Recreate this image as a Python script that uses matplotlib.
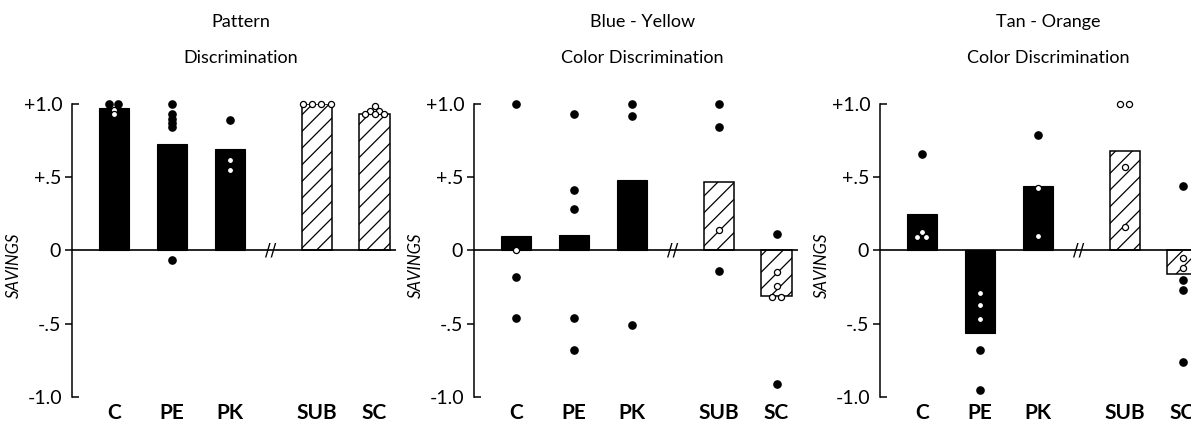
import numpy as np
from matplotlib import pyplot as plt

categories = ["C", "PE", "PK", "SUB", "SC"]

titles = [
    ("Pattern", "Discrimination"),
    ("Blue - Yellow", "Color Discrimination"),
    ("Tan - Orange", "Color Discrimination"),
]

# bar heights (mean savings)
pattern_means = [0.97, 0.73, 0.69, 1.0, 0.935]
blue_yellow_means = [0.098, 0.105, 0.48, 0.465, -0.31]
tan_orange_means = [0.25, -0.56, 0.44, 0.68, -0.16]

# individual subjects, drawn as black dots
pattern_dark = [[1.0, 1.0], [1.0, 0.93, 0.90, 0.87, 0.84, -0.066], [0.89], [], []]
blue_yellow_dark = [[1.0, -0.18, -0.46], [0.93, 0.41, 0.28, -0.46, -0.68],
                    [1.0, 0.92, -0.51], [1.0, 0.84, -0.14], [0.11, -0.91]]
tan_orange_dark = [[0.66], [-0.68, -0.95], [0.79], [], [0.44, -0.2, -0.27, -0.76]]

# individual subjects, drawn as open / reversed dots
pattern_light = [[0.96, 0.93], [], [0.62, 0.55], [1.0, 1.0, 1.0, 1.0],
                 [0.985, 0.955, 0.955, 0.935, 0.935, 0.935]]
blue_yellow_light = [[0.0], [], [], [0.14], [-0.15, -0.24, -0.32, -0.32]]
tan_orange_light = [[0.125, 0.09, 0.09], [-0.29, -0.37, -0.47], [0.43, 0.10],
                    [1.0, 1.0, 0.57, 0.16], [-0.05, -0.12]]

means = [pattern_means, blue_yellow_means, tan_orange_means]
dark = [pattern_dark, blue_yellow_dark, tan_orange_dark]
light = [pattern_light, blue_yellow_light, tan_orange_light]

plt.rcParams["font.family"] = ["Lato", "DejaVu Sans"]
plt.rcParams["hatch.linewidth"] = 0.9

W, H = 1191, 425
fig = plt.figure(figsize=(W / 100, H / 100), dpi=100)

xpos = np.array([0, 1, 2, 3.5, 4.5])
axis_left_px = [72, 474, 880]
axis_width_px = 324
bottom = 1 - 397 / H
height = (397 - 104) / H


def spread(values, step=0.16):
    # side-by-side offsets for subjects sharing the same value
    vals = list(values)
    seen = {}
    out = []
    for v in vals:
        n = vals.count(v)
        k = seen.get(v, 0)
        seen[v] = k + 1
        out.append((k - (n - 1) / 2) * step)
    return np.array(out)


for p in range(3):
    ax = fig.add_axes([axis_left_px[p] / W, bottom, axis_width_px / W, height])
    ax.set_xlim(-0.72, 4.87)
    ax.set_ylim(-1.0, 1.0)

    for i, cat in enumerate(categories):
        if i < 3:
            ax.bar(xpos[i], means[p][i], width=0.52, color="black", edgecolor="black",
                   linewidth=0.8, zorder=2)
        else:
            ax.bar(xpos[i], means[p][i], width=0.52, color="white", edgecolor="black",
                   linewidth=1.1, hatch="//", zorder=2)

        d = dark[p][i]
        if d:
            ax.plot(xpos[i] + spread(d), d, "o", color="black",
                    markersize=5.2, zorder=4, clip_on=False)
        l = light[p][i]
        if l:
            ax.plot(xpos[i] + spread(l), l, "o", markerfacecolor="white",
                    markeredgecolor="black", markeredgewidth=0.9,
                    markersize=4.4, zorder=4, clip_on=False)

    ax.axhline(0, color="black", linewidth=1.2, zorder=3)
    ax.text(2.7, 0, "//", ha="center", va="center", fontsize=12,
            family="DejaVu Sans", zorder=5)

    for s in ["top", "right", "bottom"]:
        ax.spines[s].set_visible(False)
    ax.spines["left"].set_linewidth(1.1)

    ax.set_yticks([-1.0, 1.0], labels=["-1.0", "+1.0"])
    ax.set_yticks([-0.5, 0, 0.5], labels=["-.5", "0", "+.5"], minor=True)
    ax.tick_params(axis="y", which="major", direction="in", length=5, width=1.1,
                   pad=7, labelsize=14)
    ax.tick_params(axis="y", which="minor", direction="out", length=5, width=1.1,
                   pad=3, labelsize=14)

    ax.set_xticks(xpos, labels=categories)
    ax.tick_params(axis="x", length=0, pad=4, labelsize=15)
    for t in ax.get_xticklabels():
        t.set_fontweight("bold")

    ax.set_ylabel("SAVINGS", fontsize=12, style="italic")
    ax.yaxis.set_label_coords(-50 / axis_width_px, 0.45)

    ax.text(0.52, 1.28, titles[p][0], transform=ax.transAxes, ha="center",
            va="center", fontsize=13)
    ax.text(0.52, 1.157, titles[p][1], transform=ax.transAxes, ha="center",
            va="center", fontsize=13)

fig.savefig("out.png", dpi=100)
